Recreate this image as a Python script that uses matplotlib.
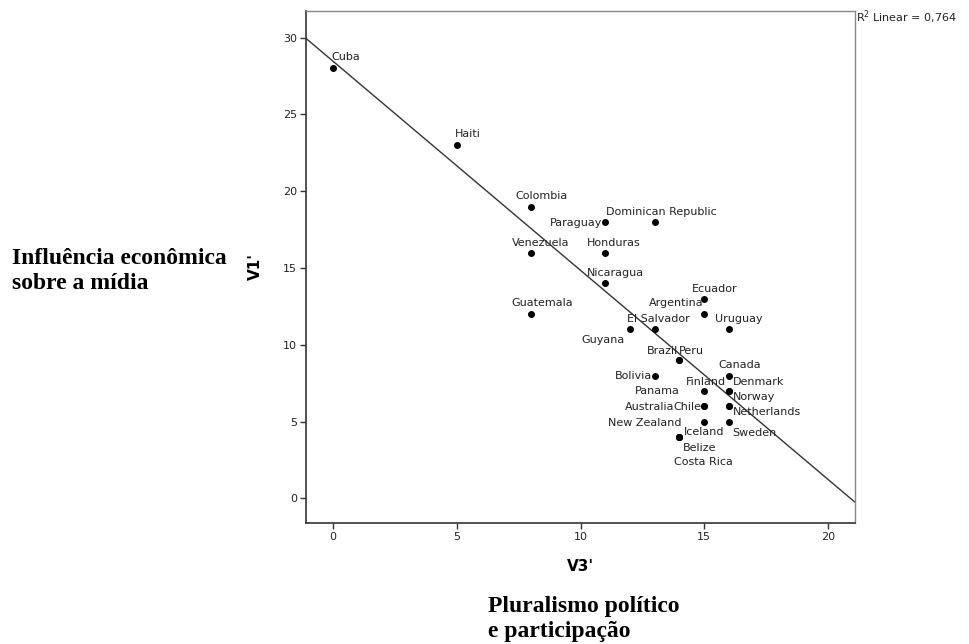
import matplotlib
matplotlib.use("Agg")
import matplotlib.pyplot as plt

# Países e valores (V3' = pluralismo, V1' = influência econômica)
countries = ["Cuba", "Haiti", "Colombia", "Venezuela", "Guatemala", "Paraguay",
             "Dominican Republic", "Honduras", "Nicaragua", "Ecuador", "Argentina",
             "El Salvador", "Uruguay", "Guyana", "Brazil", "Peru", "Canada", "Bolivia",
             "Finland", "Denmark", "Panama", "Norway", "Australia", "Chile",
             "Netherlands", "New Zealand", "Iceland", "Sweden", "Belize", "Costa Rica"]
v3 = [0, 5, 8, 8, 8, 11, 13, 11, 11, 15, 15, 13, 16, 12, 14, 14, 16, 13,
      16, 16, 15, 16, 15, 15, 16, 15, 14, 16, 14, 14]
v1 = [28, 23, 19, 16, 12, 18, 18, 16, 14, 13, 12, 11, 11, 11, 9, 9, 8, 8,
      7, 7, 7, 6, 6, 6, 6, 5, 4, 5, 4, 4]

# reta de ajuste
fit_intercept = 28.45
fit_slope = -1.36
r2_text = "R$^2$ Linear = 0,764"

# posição dos rótulos (pixels em relação ao ponto, alinhamento horizontal)
label_pos = {
    "Cuba": (-2, 8, "left"), "Haiti": (-2, 8, "left"), "Colombia": (-16, 8, "left"),
    "Venezuela": (-19, 7, "left"), "Guatemala": (-20, 8, "left"),
    "Paraguay": (-3, -4, "right"), "Dominican Republic": (-49, 7, "left"),
    "Honduras": (-18, 7, "left"), "Nicaragua": (-18, 7, "left"),
    "Ecuador": (-12, 7, "left"), "Argentina": (-1, 8, "right"),
    "El Salvador": (-28, 7, "left"), "Uruguay": (-14, 7, "left"),
    "Guyana": (-49, -14, "left"), "Brazil": (-1, 6, "right"), "Peru": (-1, 6, "left"),
    "Canada": (-11, 8, "left"), "Bolivia": (-3, -3, "right"),
    "Finland": (-3, 6, "right"), "Denmark": (4, 6, "left"), "Panama": (-24, -3, "right"),
    "Norway": (4, 6, "left"), "Australia": (-30, -4, "right"), "Chile": (-3, -4, "right"),
    "Netherlands": (4, -9, "left"), "New Zealand": (-23, -4, "right"),
    "Iceland": (4, 2, "left"), "Sweden": (3, -14, "left"), "Belize": (3, -14, "left"),
    "Costa Rica": (-5, -28, "left"),
}

fig = plt.figure(figsize=(9.69, 6.44), dpi=100)
ax = fig.add_axes([306 / 969, 1 - 523 / 644, (855 - 306) / 969, (523 - 11) / 644])

ax.axline((0, fit_intercept), slope=fit_slope, color="#333333", lw=1, zorder=2)
ax.scatter(v3, v1, s=16, color="black", zorder=3)

for name, x, y in zip(countries, v3, v1):
    dx, dy, ha = label_pos[name]
    ax.annotate(name, (x, y), xytext=(dx, dy), textcoords="offset pixels",
                ha=ha, va="baseline", fontsize=8, color="#222222")

ax.set_xlim(-1.1, 21.1)
ax.set_ylim(-1.6, 31.73)
ax.set_xticks([0, 5, 10, 15, 20])
ax.set_yticks([0, 5, 10, 15, 20, 25, 30])
ax.tick_params(labelsize=8, labelcolor="#222222", length=4.5, width=1, color="#333333", pad=2)

for s in ["left", "bottom"]:
    ax.spines[s].set_color("#333333")
    ax.spines[s].set_linewidth(1.2)
for s in ["top", "right"]:
    ax.spines[s].set_color("#888888")
    ax.spines[s].set_linewidth(1)

ax.set_xlabel("V3'", fontsize=11, fontweight="bold", labelpad=12)
ax.set_ylabel("V1'", fontsize=11, fontweight="bold", labelpad=14)

fig.text(856 / 969, 1 - 22 / 644, r2_text, fontsize=8, color="#222222", ha="left", va="baseline")

fig.text(12 / 969, 1 - 271 / 644, "Influência econômica\nsobre a mídia", family="Liberation Serif",
         fontweight="bold", fontsize=17, ha="left", va="center", linespacing=1.25)
fig.text(488 / 969, 1 - 619 / 644, "Pluralismo político\ne participação", family="Liberation Serif",
         fontweight="bold", fontsize=17, ha="left", va="center", linespacing=1.25)

fig.savefig("out.png", dpi=100)
